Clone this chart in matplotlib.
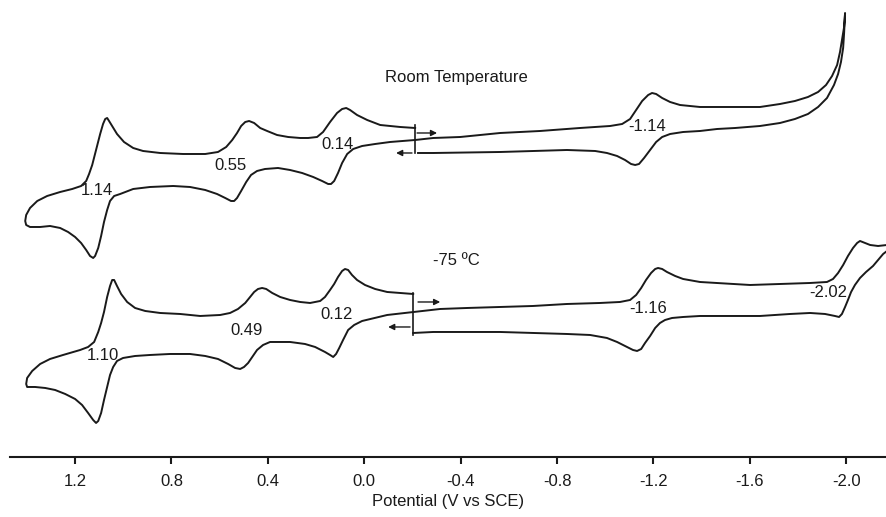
import matplotlib
matplotlib.use("Agg")
import matplotlib.pyplot as plt

plt.rcParams['font.family'] = ['Liberation Sans', 'DejaVu Sans']
plt.rcParams['axes.unicode_minus'] = False

# potential (V vs SCE) / current (arbitrary units)

# room temperature: left loop (top branch going left, bottom branch coming back)
rt_up_v = [-0.211, -0.149, -0.066, -0.012, 0.030, 0.059, 0.075, 0.092, 0.113, 0.142,
           0.171, 0.196, 0.233, 0.266, 0.316, 0.362, 0.403, 0.432, 0.457, 0.478,
           0.494, 0.511, 0.528, 0.548, 0.573, 0.607, 0.660, 0.752, 0.847, 0.918,
           0.959, 0.997, 1.026, 1.046, 1.059, 1.067, 1.075, 1.084, 1.096, 1.113,
           1.129, 1.142, 1.154, 1.175, 1.212, 1.262, 1.316, 1.357, 1.387, 1.403, 1.407]
rt_up_i = [32.9, 33.0, 33.2, 33.7, 34.2, 34.7, 34.9, 34.8, 34.4, 33.5,
           32.5, 32.0, 31.9, 31.9, 32.0, 32.2, 32.6, 32.9, 33.4, 33.6,
           33.5, 33.1, 32.4, 31.7, 31.0, 30.5, 30.3, 30.3, 30.4, 30.6,
           30.9, 31.5, 32.3, 33.1, 33.6, 33.9, 33.8, 33.3, 32.3, 30.7,
           29.2, 28.3, 27.6, 27.1, 26.8, 26.5, 26.1, 25.6, 24.9, 24.2, 23.6]
rt_lo_v = [1.407, 1.403, 1.387, 1.345, 1.304, 1.262, 1.229, 1.200, 1.175, 1.154,
           1.138, 1.125, 1.117, 1.104, 1.092, 1.080, 1.067, 1.055, 1.038, 1.013,
           0.959, 0.889, 0.793, 0.723, 0.660, 0.611, 0.577, 0.553, 0.540, 0.528,
           0.511, 0.490, 0.470, 0.445, 0.412, 0.358, 0.308, 0.258, 0.212, 0.175,
           0.150, 0.138, 0.125, 0.109, 0.092, 0.071, 0.046, 0.009, -0.045, -0.107, -0.211]
rt_lo_i = [23.6, 23.2, 23.0, 23.0, 23.1, 22.9, 22.5, 22.0, 21.4, 20.7,
           20.1, 19.9, 20.1, 20.9, 22.1, 23.5, 24.7, 25.6, 26.1, 26.3,
           26.8, 27.0, 27.1, 27.0, 26.7, 26.3, 25.9, 25.6, 25.6, 25.9,
           26.6, 27.5, 28.2, 28.6, 28.8, 28.9, 28.7, 28.4, 28.0, 27.6,
           27.3, 27.3, 27.6, 28.4, 29.4, 30.3, 30.8, 31.1, 31.3, 31.5, 31.7]
# room temperature: right loop (forward to -2.0 V, then back)
rt_fw_v = [-0.286, -0.398, -0.564, -0.729, -0.895, -1.020, -1.070, -1.103, -1.128, -1.153,
           -1.178, -1.194, -1.211, -1.236, -1.269, -1.310, -1.393, -1.518, -1.642, -1.725,
           -1.787, -1.841, -1.883, -1.916, -1.941, -1.962, -1.974, -1.982, -1.991, -1.995]
rt_fw_i = [31.9, 32.0, 32.4, 32.6, 32.9, 33.1, 33.3, 33.8, 34.7, 35.6,
           36.2, 36.4, 36.3, 35.9, 35.5, 35.2, 35.0, 35.0, 35.0, 35.3,
           35.6, 36.0, 36.5, 37.2, 38.1, 39.2, 40.5, 41.7, 43.0, 44.4]
rt_rv_v = [-1.991, -1.987, -1.978, -1.966, -1.949, -1.920, -1.883, -1.841, -1.787, -1.725,
           -1.642, -1.539, -1.464, -1.393, -1.323, -1.269, -1.236, -1.211, -1.186, -1.161,
           -1.140, -1.124, -1.107, -1.082, -1.049, -1.007, -0.958, -0.841, -0.564, -0.286, -0.223]
rt_rv_i = [42.4, 40.9, 39.5, 38.3, 37.2, 35.9, 35.0, 34.3, 33.8, 33.4,
           33.1, 32.9, 32.8, 32.6, 32.5, 32.3, 32.0, 31.5, 30.7, 29.9,
           29.3, 29.2, 29.3, 29.7, 30.1, 30.4, 30.6, 30.7, 30.5, 30.4, 30.4]

# -75 C, same structure
lt_up_v = [-0.203, -0.149, -0.095, -0.045, -0.003, 0.030, 0.051, 0.067, 0.080, 0.092,
           0.109, 0.125, 0.142, 0.163, 0.183, 0.225, 0.266, 0.308, 0.349, 0.382,
           0.407, 0.424, 0.441, 0.457, 0.474, 0.494, 0.524, 0.557, 0.598, 0.681,
           0.764, 0.847, 0.909, 0.951, 0.984, 1.009, 1.026, 1.038, 1.046, 1.055,
           1.067, 1.080, 1.092, 1.104, 1.121, 1.146, 1.179, 1.250, 1.304, 1.345,
           1.378, 1.399, 1.403]
lt_up_i = [16.3, 16.4, 16.5, 16.8, 17.2, 17.7, 18.2, 18.7, 18.8, 18.6,
           18.0, 17.3, 16.7, 16.0, 15.6, 15.4, 15.5, 15.7, 16.0, 16.4,
           16.8, 16.9, 16.8, 16.5, 16.0, 15.4, 14.8, 14.4, 14.2, 14.1,
           14.3, 14.4, 14.6, 14.9, 15.5, 16.3, 17.1, 17.7, 17.7, 17.1,
           16.0, 14.5, 13.4, 12.5, 11.5, 11.0, 10.7, 10.2, 9.8, 9.3,
           8.6, 7.9, 7.3]
lt_lo_v = [1.403, 1.399, 1.366, 1.324, 1.283, 1.241, 1.200, 1.171, 1.146, 1.125,
           1.113, 1.104, 1.092, 1.080, 1.067, 1.055, 1.042, 1.026, 1.001, 0.951,
           0.889, 0.806, 0.723, 0.660, 0.607, 0.565, 0.536, 0.515, 0.499, 0.482,
           0.465, 0.445, 0.420, 0.391, 0.308, 0.246, 0.204, 0.163, 0.142, 0.129,
           0.117, 0.104, 0.088, 0.067, 0.042, 0.009, -0.095, -0.203]
lt_lo_i = [7.3, 7.0, 7.0, 6.9, 6.7, 6.3, 5.8, 5.2, 4.4, 3.7,
           3.4, 3.6, 4.4, 5.7, 7.0, 8.2, 9.0, 9.6, 9.9, 10.1,
           10.2, 10.3, 10.3, 10.1, 9.8, 9.3, 8.9, 8.8, 9.0, 9.4,
           10.0, 10.7, 11.2, 11.5, 11.5, 11.3, 11.0, 10.5, 10.2, 10.0,
           10.3, 10.9, 11.7, 12.7, 13.2, 13.6, 14.2, 14.5]
lt_fw_v = [-0.315, -0.427, -0.564, -0.700, -0.841, -0.978, -1.061, -1.103, -1.128, -1.149,
           -1.169, -1.190, -1.207, -1.219, -1.236, -1.256, -1.290, -1.323, -1.393, -1.464,
           -1.601, -1.725, -1.850, -1.920, -1.945, -1.966, -1.987, -2.007, -2.028, -2.045,
           -2.057, -2.078, -2.099, -2.132, -2.169, -2.223]
lt_fw_i = [14.8, 14.9, 15.0, 15.1, 15.3, 15.4, 15.5, 15.7, 16.2, 16.9,
           17.7, 18.4, 18.8, 18.9, 18.8, 18.5, 18.1, 17.8, 17.5, 17.4,
           17.2, 17.3, 17.4, 17.5, 17.8, 18.4, 19.2, 20.1, 20.9, 21.4,
           21.6, 21.4, 21.2, 21.1, 21.2, 21.2]
lt_rv_v = [-2.223, -2.169, -2.153, -2.132, -2.111, -2.082, -2.057, -2.036, -2.020, -2.007,
           -1.995, -1.982, -1.970, -1.953, -1.912, -1.850, -1.767, -1.642, -1.530, -1.393,
           -1.323, -1.277, -1.248, -1.227, -1.207, -1.186, -1.165, -1.149, -1.132, -1.115,
           -1.090, -1.049, -1.007, -0.937, -0.841, -0.564, -0.286, -0.203]
lt_rv_i = [20.7, 20.6, 20.3, 19.7, 19.1, 18.5, 17.9, 17.2, 16.5, 15.7,
           15.0, 14.3, 14.0, 14.1, 14.3, 14.4, 14.3, 14.1, 14.1, 14.1,
           14.0, 13.9, 13.7, 13.4, 12.9, 12.1, 11.4, 10.8, 10.6, 10.7,
           11.0, 11.5, 11.9, 12.2, 12.3, 12.5, 12.5, 12.4]

# start potential markers (V, current bottom, current top)
start_marks = [(-0.211, 30.4, 33.2), (-0.202, 12.2, 16.4)]
# scan direction arrows (V from, V to, current)
arrows = [(-0.219, -0.302, 32.4), (-0.198, -0.132, 30.4),
          (-0.223, -0.315, 15.5), (-0.190, -0.099, 13.0)]

# peak labels
labels = ["0.14", "0.55", "1.14", "-1.14", "0.12", "0.49", "1.10", "-1.16", "-2.02"]
label_v = [0.113, 0.557, 1.108, -1.173, 0.117, 0.490, 1.084, -1.177, -1.925]
label_i = [31.2, 29.1, 26.6, 33.0, 14.2, 12.6, 10.1, 14.8, 16.4]

ticks = [1.2, 0.8, 0.4, 0.0, -0.4, -0.8, -1.2, -1.6, -2.0]

fig = plt.figure(figsize=(8.87, 5.17), dpi=100)
ax = fig.add_axes([0.0113, 0.1161, 0.9887, 0.8839])

col = '#1a1a1a'
rt_v = rt_up_v + rt_lo_v + rt_fw_v + rt_rv_v
rt_i = rt_up_i + rt_lo_i + rt_fw_i + rt_rv_i
lt_v = lt_up_v + lt_lo_v + lt_fw_v + lt_rv_v
lt_i = lt_up_i + lt_lo_i + lt_fw_i + lt_rv_i
ax.plot(rt_v, rt_i, color=col, lw=1.4, solid_joinstyle='round')
ax.plot(lt_v, lt_i, color=col, lw=1.4, solid_joinstyle='round')

for v, lo, hi in start_marks:
    ax.plot([v, v], [lo, hi], color=col, lw=1.2)
for v0, v1, i in arrows:
    ax.annotate('', xy=(v1, i), xytext=(v0, i),
                arrowprops=dict(arrowstyle='-|>', color=col, lw=1.0,
                                mutation_scale=9, shrinkA=0, shrinkB=0))

for t, v, i in zip(labels, label_v, label_i):
    ax.text(v, i, t, ha='center', va='center', fontsize=12, color=col)

ax.text(-0.381, 37.9, 'Room Temperature', ha='center', va='center', fontsize=12, color=col)
ax.text(-0.381, 19.6, '-75 ºC', ha='center', va='center', fontsize=12, color=col)

ax.set_xlim(1.470, -2.169)
ax.set_ylim(0, 45.7)
ax.set_xticks(ticks)
ax.set_xticklabels(['%.1f' % t for t in ticks])
ax.set_yticks([])
for s in ['top', 'left', 'right']:
    ax.spines[s].set_visible(False)
ax.spines['bottom'].set_linewidth(1.5)
ax.spines['bottom'].set_color(col)
ax.tick_params(axis='x', direction='out', length=5, width=1.5, pad=7,
               labelsize=12, colors=col)
ax.set_xlabel('Potential (V vs SCE)', fontsize=12, color=col, labelpad=4)

fig.savefig('out.png', dpi=100)
